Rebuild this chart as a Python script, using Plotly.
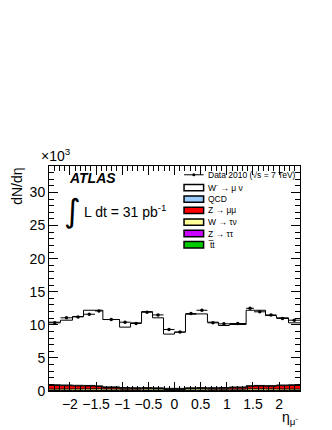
import plotly.graph_objects as go

# bin edges in eta (muon pseudorapidity), values in units of 10^3
eta_edges = [-2.4, -2.18, -1.95, -1.74, -1.52, -1.37, -1.05, -0.84, -0.63, -0.42, -0.21,
             0.0, 0.21, 0.42, 0.63, 0.84, 1.05, 1.37, 1.52, 1.74, 1.95, 2.18, 2.4]

data_2010 = [10.3, 11.06, 11.2, 11.6, 12.1, 10.8, 10.4, 10.2, 11.9, 11.5, 9.3,
             8.9, 11.7, 12.2, 10.3, 10.15, 10.2, 12.5, 11.97, 11.5, 10.96, 10.7]
data_err = [0.12, 0.12, 0.12, 0.12, 0.14, 0.1, 0.12, 0.12, 0.12, 0.12, 0.12,
            0.12, 0.12, 0.12, 0.12, 0.12, 0.1, 0.14, 0.12, 0.12, 0.12, 0.12]

w_munu = [9.46, 9.8, 10.4, 11.36, 11.43, 10.18, 9.13, 9.8, 11.49, 10.58, 8.2,
          8.5, 11.11, 11.14, 9.9, 9.38, 9.45, 11.4, 11.36, 10.59, 10.16, 9.36]
qcd = [0.1, 0.1, 0.1, 0.1, 0.1, 0.1, 0.1, 0.1, 0.1, 0.1, 0.1,
       0.1, 0.1, 0.1, 0.1, 0.1, 0.1, 0.1, 0.1, 0.1, 0.1, 0.1]
z_mumu = [0.55, 0.5, 0.45, 0.42, 0.35, 0.22, 0.15, 0.12, 0.1, 0.08, 0.05,
          0.05, 0.08, 0.1, 0.12, 0.15, 0.22, 0.38, 0.42, 0.4, 0.5, 0.55]
w_taunu = [0.22, 0.23, 0.24, 0.25, 0.25, 0.23, 0.2, 0.21, 0.24, 0.23, 0.18,
           0.18, 0.24, 0.24, 0.21, 0.2, 0.21, 0.25, 0.25, 0.24, 0.23, 0.22]
z_tautau = [0.03] * 22
ttbar = [0.04] * 22

centers = [(a + b) / 2 for a, b in zip(eta_edges[:-1], eta_edges[1:])]
half_w = [(b - a) / 2 for a, b in zip(eta_edges[:-1], eta_edges[1:])]

# stack, bottom first
stack = [
    ("t\u0305t", ttbar, "#00cc00"),
    ("Z \u2192 \u03c4\u03c4", z_tautau, "#cc00ff"),
    ("W \u2192 \u03c4\u03bd", w_taunu, "#ffff99"),
    ("Z \u2192 \u03bc\u03bc", z_mumu, "#ff0000"),
    ("QCD", qcd, "#99ccff"),
    ("W<sup>-</sup> \u2192 \u03bc \u03bd", w_munu, "#ffffff"),
]

fig = go.Figure()

for name, vals, col in stack:
    fig.add_trace(go.Scatter(
        x=eta_edges, y=vals + [vals[-1]], stackgroup="mc", line_shape="hv",
        mode="lines", line=dict(color="black", width=1), fillcolor=col,
        name=name, showlegend=False, hoverinfo="skip"))

fig.add_trace(go.Scatter(
    x=centers, y=data_2010, mode="markers", name="Data 2010",
    showlegend=False,
    marker=dict(color="black", size=3.5),
    error_x=dict(type="data", array=half_w, width=0, thickness=1, color="black"),
    error_y=dict(type="data", array=data_err, width=0, thickness=1, color="black")))

font = "Liberation Sans, Arial, sans-serif"

fig.update_xaxes(
    range=[-2.4, 2.4], tickvals=[-2, -1.5, -1, -0.5, 0, 0.5, 1, 1.5, 2],
    ticks="inside", ticklen=9, tickcolor="black", showline=True, linecolor="black",
    linewidth=1, mirror="allticks", showgrid=False, zeroline=False,
    minor=dict(dtick=0.1, ticks="inside", ticklen=5, tickcolor="black"),
    tickfont=dict(size=14, color="black", family=font))
fig.update_yaxes(
    range=[0, 34], dtick=5, ticks="inside", ticklen=9, tickcolor="black",
    showline=True, linecolor="black", linewidth=1, mirror="allticks",
    showgrid=False, zeroline=False,
    minor=dict(dtick=1, ticks="inside", ticklen=5, tickcolor="black"),
    tickfont=dict(size=14, color="black", family=font))

black = dict(color="black", family=font)
annots = [
    dict(x=-0.04, y=1.0, xanchor="left", yanchor="bottom", text="\u00d710<sup>3</sup>",
         font=dict(size=14, **black)),
    dict(x=-0.13, y=1.0, xanchor="center", yanchor="top", text="dN/d\u03b7",
         textangle=-90, font=dict(size=14, **black)),
    dict(x=0.07, y=0.947, xanchor="left", yanchor="middle", text="<b><i>ATLAS</i></b>",
         font=dict(size=14, **black)),
    dict(x=0.05, y=0.8, xanchor="left", yanchor="middle", text="\u222b",
         font=dict(size=32, color="black", family="DejaVu Sans")),
    dict(x=0.13, y=0.8, xanchor="left", yanchor="middle",
         text="L dt = 31 pb<sup>-1</sup>", font=dict(size=14, **black)),
    dict(x=0.96, y=-0.12, xanchor="center", yanchor="middle",
         text="\u03b7<sub>\u03bc\u207b</sub>", font=dict(size=14, **black)),
]
for a in annots:
    fig.add_annotation(xref="paper", yref="paper", showarrow=False, **a)

# hand-made ROOT style legend (paper coordinates)
leg_x0, leg_x1, leg_tx = 0.538, 0.616, 0.625
leg_y = [0.961, 0.904, 0.853, 0.803, 0.751, 0.70, 0.65]
leg_h = 0.014
fig.add_shape(type="line", xref="paper", yref="paper", x0=leg_x0, x1=leg_x1,
              y0=leg_y[0], y1=leg_y[0], line=dict(color="black", width=1))
fig.add_shape(type="circle", xref="paper", yref="paper",
              x0=(leg_x0 + leg_x1) / 2 - 0.006, x1=(leg_x0 + leg_x1) / 2 + 0.006,
              y0=leg_y[0] - 0.007, y1=leg_y[0] + 0.007,
              fillcolor="black", line=dict(color="black", width=0))
fig.add_annotation(xref="paper", yref="paper", showarrow=False, x=leg_tx, y=leg_y[0],
                   xanchor="left", yanchor="middle",
                   text="Data 2010 (\u221as = 7 TeV)", font=dict(size=8.5, **black))
for (name, vals, col), yy in zip(stack[::-1], leg_y[1:]):
    fig.add_shape(type="rect", xref="paper", yref="paper", x0=leg_x0, x1=leg_x1,
                  y0=yy - leg_h, y1=yy + leg_h, fillcolor=col,
                  line=dict(color="black", width=1.5))
    fig.add_annotation(xref="paper", yref="paper", showarrow=False, x=leg_tx, y=yy,
                       xanchor="left", yanchor="middle", text=name,
                       font=dict(size=8.5, **black))

fig.update_layout(
    width=332, height=430,
    margin=dict(l=41, r=40, t=158, b=47),
    plot_bgcolor="white", paper_bgcolor="white",
    font=dict(family=font, color="black"),
    showlegend=False,
)

fig.write_html("out.html")
